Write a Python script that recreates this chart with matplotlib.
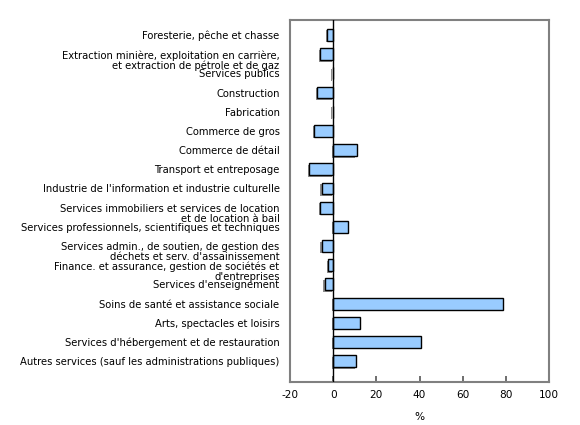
import matplotlib
matplotlib.use("Agg")
import matplotlib.pyplot as plt
from matplotlib.transforms import offset_copy, blended_transform_factory

categories = [
    "Foresterie, pêche et chasse",
    "Extraction minière, exploitation en carrière,\net extraction de pétrole et de gaz",
    "Services publics",
    "Construction",
    "Fabrication",
    "Commerce de gros",
    "Commerce de détail",
    "Transport et entreposage",
    "Industrie de l'information et industrie culturelle",
    "Services immobiliers et services de location\net de location à bail",
    "Services professionnels, scientifiques et techniques",
    "Services admin., de soutien, de gestion des\ndéchets et serv. d'assainissement",
    "Finance. et assurance, gestion de sociétés et\nd'entreprises",
    "Services d'enseignement",
    "Soins de santé et assistance sociale",
    "Arts, spectacles et loisirs",
    "Services d'hébergement et de restauration",
    "Autres services (sauf les administrations publiques)",
]
values = [-2.7, -6.0, -0.3, -7.3, -0.3, -8.8, 11.0, -11.0, -5.2, -6.0,
          7.0, -5.2, -2.3, -3.8, 78.7, 12.5, 40.5, 10.6]
xticks = [-20, 0, 20, 40, 60, 80, 100]

fig = plt.figure(figsize=(5.8, 4.25), dpi=100)
ax = fig.add_axes([0.5, 0.101, 0.4466, 0.852])

pos = list(range(len(categories)))

# shadow then bars
shadow = offset_copy(ax.transData, fig=fig, x=-1.5, y=-1.5, units="dots")
ax.barh(pos, values, height=0.62, color="#8c8c8c", linewidth=0,
        transform=shadow, zorder=2)
ax.barh(pos, values, height=0.62, color="#99ccff", edgecolor="black",
        linewidth=1.0, zorder=3)

ax.axvline(0, color="black", linewidth=1.0, zorder=4)

ax.set_xlim(-20, 100)
ax.set_ylim(len(categories) - 1 + 1.09, -0.78)
ax.set_xticks(xticks)
ax.set_xticklabels([str(t) for t in xticks], fontsize=7.6)
ax.set_yticks([])
ax.tick_params(axis="x", direction="in", length=4, width=1.2, color="#555555", pad=6)
ax.set_xlabel("%", fontsize=7.6, labelpad=8)

for s in ax.spines.values():
    s.set_color("#808080")
    s.set_linewidth(1.5)

# labels: first line centred on the bar, further lines go below
fs = 7.2
trans = blended_transform_factory(ax.transAxes, ax.transData)
trans = offset_copy(trans, fig=fig, x=-7.5, y=fs * 0.4, units="points")
for p, lab in zip(pos, categories):
    ax.text(0, p, lab, transform=trans, ha="right", va="top",
            fontsize=fs, linespacing=1.02, multialignment="right")

fig.savefig("out.png", dpi=100)
